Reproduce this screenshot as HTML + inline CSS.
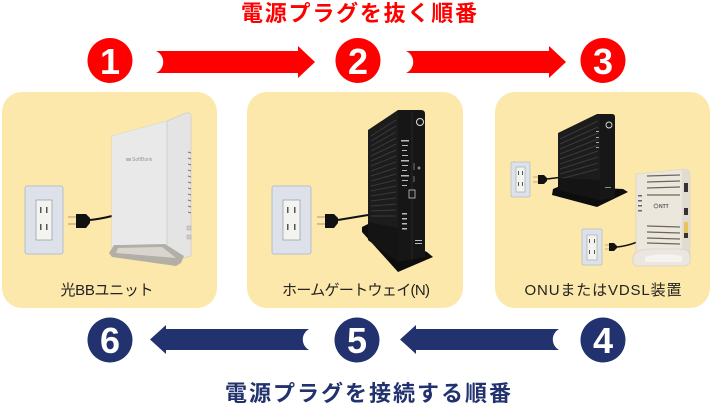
<!DOCTYPE html>
<html><head><meta charset="utf-8"><style>
html,body{margin:0;padding:0;background:#fff;}
svg{display:block;}
text{font-family:"Liberation Sans","Noto Sans CJK JP",sans-serif;}
</style></head><body>
<svg width="711" height="405" viewBox="0 0 711 405" xmlns="http://www.w3.org/2000/svg">
<!-- Titles -->
<text x="359" y="21" text-anchor="middle" font-size="22" font-weight="bold" fill="#ff0000" textLength="236" lengthAdjust="spacing" style="font-family:'Noto Sans CJK JP',sans-serif">電源プラグを抜く順番</text>
<text x="368" y="401" text-anchor="middle" font-size="22" font-weight="bold" fill="#22326e" textLength="286" lengthAdjust="spacing" style="font-family:'Noto Sans CJK JP',sans-serif">電源プラグを接続する順番</text>

<!-- Red circles -->
<g fill="#ff0000">
<circle cx="110" cy="60.5" r="22.5"/>
<circle cx="358" cy="60.5" r="22.5"/>
<circle cx="603" cy="60.5" r="22.5"/>
</g>
<g fill="#fff" font-size="36" font-weight="bold" text-anchor="middle">
<text x="110" y="74">1</text>
<text x="358" y="74">2</text>
<text x="603" y="74">3</text>
</g>
<!-- Red arrows -->
<path d="M156,51 L298,51 L298,46 L315,62 L298,78 L298,73 L156,73 A12,12 0 0 0 156,51 Z" fill="#ff0000"/>
<path d="M406,51 L549,51 L549,46 L566,62 L549,78 L549,73 L406,73 A12,12 0 0 0 406,51 Z" fill="#ff0000"/>

<!-- Panels -->
<g fill="#fde8ab">
<rect x="2" y="92" width="215" height="216" rx="20"/>
<rect x="247" y="92" width="216" height="216" rx="20"/>
<rect x="495" y="92" width="215" height="216" rx="20"/>
</g>

<!-- Navy circles -->
<g fill="#22326e">
<circle cx="110" cy="340" r="22.5"/>
<circle cx="357" cy="340" r="22.5"/>
<circle cx="603" cy="340" r="22.5"/>
</g>
<g fill="#fff" font-size="36" font-weight="bold" text-anchor="middle">
<text x="110" y="353">6</text>
<text x="357" y="353">5</text>
<text x="603" y="353">4</text>
</g>
<!-- Navy arrows -->
<path d="M309,329 L166,329 L166,325 L150,339.5 L166,354 L166,350 L309,350 A12,12 0 0 1 309,329 Z" fill="#22326e"/>
<path d="M559,329 L416,329 L416,325 L400,339.5 L416,354 L416,350 L559,350 A12,12 0 0 1 559,329 Z" fill="#22326e"/>

<!-- ===== Panel 1: outlet + white router ===== -->
<rect x="25" y="186" width="38" height="68" rx="2" fill="#dde2ea" stroke="#b7bfcc" stroke-width="1"/>
<rect x="36" y="200" width="16" height="40" fill="#f3f3f0" stroke="#9aa0a8" stroke-width="0.8"/>
<g fill="#555"><rect x="40" y="207" width="1.5" height="6"/><rect x="46" y="207" width="1.5" height="6"/><rect x="40" y="224" width="1.5" height="6"/><rect x="46" y="224" width="1.5" height="6"/></g>
<g stroke="#c9a57a" stroke-width="1.3"><line x1="68" y1="217" x2="76" y2="217"/><line x1="68" y1="224" x2="76" y2="224"/></g>
<path d="M76,214 L86,214 L90,218 L90,223 L86,228 L76,228 Z" fill="#111"/>
<path d="M90,220 Q100,219 112,216" stroke="#111" stroke-width="2" fill="none"/>
<!-- router -->
<path d="M112,136 L167,121 L186,113 Q191,112 191,117 L191,256 L167,262 L112,248 Z" fill="#e4e4e4" stroke="#cfcfcf" stroke-width="0.8"/>
<path d="M112,136 L167,121 L167,262 L112,248 Z" fill="#e9e9e9"/>
<line x1="167" y1="121" x2="167" y2="262" stroke="#cfcfcf" stroke-width="1"/>
<g stroke="#777" stroke-width="1">
<line x1="188" y1="152" x2="191" y2="153"/><line x1="188" y1="158" x2="191" y2="159"/><line x1="188" y1="164" x2="191" y2="165"/><line x1="188" y1="170" x2="191" y2="171"/><line x1="188" y1="176" x2="191" y2="177"/><line x1="188" y1="182" x2="191" y2="183"/><line x1="188" y1="188" x2="191" y2="189"/><line x1="188" y1="194" x2="191" y2="195"/><line x1="188" y1="200" x2="191" y2="201"/><line x1="188" y1="206" x2="191" y2="207"/><line x1="188" y1="212" x2="191" y2="213"/>
</g>
<rect x="187" y="226" width="4" height="4" fill="#ccc" stroke="#aaa" stroke-width="0.5"/>
<rect x="187" y="235" width="4" height="4" fill="#ccc" stroke="#aaa" stroke-width="0.5"/>
<rect x="126" y="158" width="5" height="3" fill="#bbb"/>
<text x="132" y="161" font-size="5" fill="#999">SoftBank</text>
<path d="M109,253 L114,245 L120,245 L165,244 L184,256 L181,263 L176,266 L112,257 Z" fill="#b3afa7"/>
<path d="M118,248 L162,247 L176,258 L116,253 Z" fill="#d8d5cf"/>
<text x="107" y="295" text-anchor="middle" font-size="15" fill="#222" textLength="93" lengthAdjust="spacing">光BBユニット</text>

<!-- ===== Panel 2: outlet + black gateway ===== -->
<rect x="272" y="186" width="39" height="68" rx="2" fill="#dde2ea" stroke="#b7bfcc" stroke-width="1"/>
<rect x="283" y="200" width="17" height="40" fill="#f3f3f0" stroke="#9aa0a8" stroke-width="0.8"/>
<g fill="#555"><rect x="287" y="207" width="1.5" height="6"/><rect x="294" y="207" width="1.5" height="6"/><rect x="287" y="224" width="1.5" height="6"/><rect x="294" y="224" width="1.5" height="6"/></g>
<g stroke="#c9a57a" stroke-width="1.3"><line x1="317" y1="217" x2="325" y2="217"/><line x1="317" y1="224" x2="325" y2="224"/></g>
<path d="M325,214 L334,214 L338,218 L338,223 L334,228 L325,228 Z" fill="#111"/>
<path d="M338,220 Q350,218 368,215" stroke="#111" stroke-width="2" fill="none"/>
<!-- base -->
<path d="M362,227 L368,224 L427,252 L433,257 L398,272 L362,232 Z" fill="#0d0d0d"/>
<!-- side ribbed -->
<path d="M368,130 L398,110 L398,262 L368,240 Z" fill="#1c1c1c"/>
<g stroke="#3a3a3a" stroke-width="1">
<line x1="371" y1="136" x2="396" y2="120"/><line x1="371" y1="141" x2="396" y2="126"/><line x1="371" y1="146" x2="396" y2="132"/><line x1="371" y1="151" x2="396" y2="138"/><line x1="371" y1="156" x2="396" y2="144"/><line x1="371" y1="161" x2="396" y2="150"/><line x1="371" y1="166" x2="396" y2="156"/><line x1="371" y1="171" x2="396" y2="162"/><line x1="371" y1="176" x2="396" y2="168"/><line x1="371" y1="181" x2="396" y2="174"/><line x1="371" y1="186" x2="396" y2="180"/><line x1="371" y1="191" x2="396" y2="186"/><line x1="371" y1="196" x2="396" y2="192"/><line x1="371" y1="201" x2="396" y2="198"/><line x1="371" y1="206" x2="396" y2="204"/><line x1="371" y1="211" x2="396" y2="210"/><line x1="371" y1="216" x2="396" y2="216"/>
</g>
<path d="M368,222 L398,228 L398,262 L368,240 Z" fill="#141414"/>
<!-- front -->
<path d="M398,110 L421,110 Q425,110 425,114 L425,257 L398,262 Z" fill="#161616"/>
<line x1="412" y1="112" x2="412" y2="259" stroke="#2a2a2a" stroke-width="0.8"/>
<circle cx="420" cy="122" r="3.5" fill="none" stroke="#ddd" stroke-width="1"/>
<g fill="#bbb">
<rect x="401" y="140" width="8" height="1.5"/><rect x="402" y="145" width="6" height="1"/><rect x="402" y="150" width="5" height="1"/><rect x="402" y="155" width="6" height="1"/><rect x="401" y="160" width="8" height="1.5"/><rect x="402" y="165" width="6" height="1"/><rect x="402" y="170" width="5" height="1"/><rect x="401" y="175" width="8" height="1.5"/><rect x="402" y="180" width="6" height="1"/><rect x="402" y="185" width="5" height="1"/>
<rect x="402" y="213" width="5" height="1.5"/><rect x="402" y="218" width="5" height="1.5"/><rect x="402" y="223" width="5" height="1.5"/><rect x="402" y="228" width="5" height="1.5"/>
<rect x="415" y="240" width="7" height="1"/><rect x="415" y="243" width="7" height="1"/>
</g>
<path d="M414,163 L414,170 M414,176 L414,182" stroke="#888" stroke-width="0.8"/>
<circle cx="419" cy="168" r="1.5" fill="#888"/>
<rect x="409" y="190" width="6" height="8" fill="none" stroke="#ccc" stroke-width="0.8"/>
<text x="356" y="295" text-anchor="middle" font-size="15" fill="#222" textLength="148" lengthAdjust="spacing">ホームゲートウェイ(N)</text>

<!-- ===== Panel 3 ===== -->
<!-- outlet 1 -->
<rect x="511" y="162" width="19" height="35" rx="1.5" fill="#dde2ea" stroke="#b7bfcc" stroke-width="0.8"/>
<rect x="516" y="167" width="9" height="25" fill="#f3f3f0" stroke="#9aa0a8" stroke-width="0.6"/>
<g fill="#555"><rect x="518" y="171" width="1" height="4"/><rect x="522" y="171" width="1" height="4"/><rect x="518" y="182" width="1" height="4"/><rect x="522" y="182" width="1" height="4"/></g>
<g stroke="#c9a57a" stroke-width="1"><line x1="533" y1="177" x2="538" y2="177"/><line x1="533" y1="182" x2="538" y2="182"/></g>
<path d="M538,175 L544,175 L547,178 L547,181 L544,184 L538,184 Z" fill="#111"/>
<path d="M547,179 Q555,178 563,177" stroke="#111" stroke-width="1.5" fill="none"/>
<!-- black ONU -->
<path d="M553,189 L560,186 L623,189 L628,192 L597,207 L552,195 Z" fill="#0d0d0d"/>
<path d="M558,133 L597,114 L600,114 L600,200 L558,190 Z" fill="#1c1c1c"/>
<g stroke="#3a3a3a" stroke-width="1">
<line x1="560" y1="139" x2="598" y2="121"/><line x1="560" y1="144" x2="598" y2="127"/><line x1="560" y1="149" x2="598" y2="133"/><line x1="560" y1="154" x2="598" y2="139"/><line x1="560" y1="159" x2="598" y2="145"/><line x1="560" y1="164" x2="598" y2="151"/><line x1="560" y1="169" x2="598" y2="157"/><line x1="560" y1="174" x2="598" y2="163"/><line x1="560" y1="179" x2="598" y2="169"/>
</g>
<path d="M558,178 L600,180 L600,200 L558,190 Z" fill="#141414"/>
<path d="M600,114 L612,114 Q615,114 615,117 L615,198 L600,200 Z" fill="#171717"/>
<circle cx="609" cy="125" r="3" fill="none" stroke="#ddd" stroke-width="0.9"/>
<g fill="#aaa"><rect x="596" y="131" width="3" height="1"/><rect x="596" y="137" width="3" height="1"/><rect x="596" y="142" width="3" height="1"/><rect x="596" y="147" width="3" height="1"/><rect x="605" y="187" width="6" height="0.8"/></g>
<!-- outlet 2 -->
<rect x="582" y="229" width="20" height="36" rx="1.5" fill="#dde2ea" stroke="#b7bfcc" stroke-width="0.8"/>
<rect x="587" y="235" width="10" height="25" fill="#f3f3f0" stroke="#9aa0a8" stroke-width="0.6"/>
<g fill="#555"><rect x="589" y="239" width="1" height="4"/><rect x="594" y="239" width="1" height="4"/><rect x="589" y="250" width="1" height="4"/><rect x="594" y="250" width="1" height="4"/></g>
<g stroke="#c9a57a" stroke-width="1"><line x1="605" y1="245" x2="609" y2="245"/><line x1="605" y1="249" x2="609" y2="249"/></g>
<path d="M609,243 L614,243 L617,246 L617,248 L614,251 L609,251 Z" fill="#111"/>
<path d="M617,247 Q627,246 637,242" stroke="#111" stroke-width="1.5" fill="none"/>
<!-- white VDSL -->
<path d="M636,174 L684,169 Q690,169 690,174 L690,257 L636,257 Z" fill="#ece7dd" stroke="#d6d0c4" stroke-width="0.6"/>
<path d="M682,169 L686,169 Q690,169 690,174 L690,257 L682,257 Z" fill="#e2dcd0"/>
<g stroke="#6d655b" stroke-width="1.2">
<line x1="647" y1="176" x2="680" y2="175"/><line x1="647" y1="182" x2="680" y2="181"/><line x1="647" y1="188" x2="680" y2="187"/><line x1="647" y1="195" x2="680" y2="195"/>
<line x1="647" y1="226" x2="680" y2="227"/><line x1="647" y1="232" x2="680" y2="233"/><line x1="647" y1="238" x2="680" y2="239"/><line x1="647" y1="243" x2="680" y2="244"/>
</g>
<g fill="#6d655b"><rect x="638" y="195" width="4" height="1.5"/><rect x="638" y="200" width="4" height="1.5"/><rect x="638" y="205" width="4" height="1.5"/><rect x="638" y="210" width="4" height="1.5"/></g>
<circle cx="656" cy="206" r="2" fill="none" stroke="#555" stroke-width="0.7"/>
<text x="659" y="208" font-size="5" font-weight="bold" fill="#555">NTT</text>
<rect x="684" y="183" width="4" height="9" fill="#333"/>
<rect x="684" y="208" width="4" height="7" fill="#333"/>
<rect x="684" y="222" width="4" height="11" fill="#e9c45a"/>
<rect x="684" y="233" width="4" height="5" fill="#333"/>
<path d="M633,257 Q634,250 650,249 L680,249 Q690,249 690,257 L690,263 L686,266 L636,266 L633,263 Z" fill="#ebe7e0" stroke="#cfc9be" stroke-width="0.6"/>
<path d="M645,257 Q660,252 682,256 L682,262 L645,262 Z" fill="#f5f3ef"/>
<text x="603" y="295" text-anchor="middle" font-size="15" fill="#222" textLength="157" lengthAdjust="spacing">ONUまたはVDSL装置</text>
</svg>
</body></html>
